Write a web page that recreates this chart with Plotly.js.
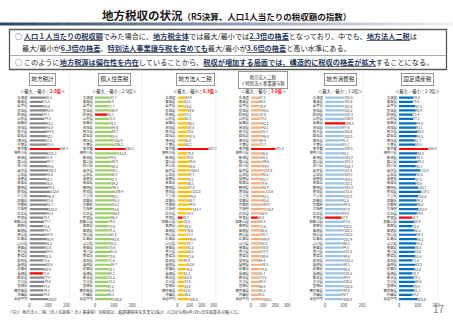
<!DOCTYPE html>
<html><head><meta charset="utf-8">
<script src="https://cdn.plot.ly/plotly-3.0.1.min.js"></script>
<style>body{margin:0;background:#fff}#c{width:453px;height:320px}</style>
</head><body><div id="c"></div><script>
const prefs=['北海道','青森県','岩手県','宮城県','秋田県','山形県','福島県','茨城県','栃木県','群馬県','埼玉県','千葉県','東京都','神奈川県','新潟県','富山県','石川県','福井県','山梨県','長野県','岐阜県','静岡県','愛知県','三重県','滋賀県','京都府','大阪府','兵庫県','奈良県','和歌山県','鳥取県','島根県','岡山県','広島県','山口県','徳島県','香川県','愛媛県','高知県','福岡県','佐賀県','長崎県','熊本県','大分県','宮崎県','鹿児島県','沖縄県','全国平均'];
const localTaxTotal=[86.3,73.5,76.8,92.4,74.1,79.5,92.3,92.8,94.8,90.1,87.2,93.4,164.5,101.5,87.8,94.7,94.6,100.1,92.8,88.7,88.6,99.1,112.6,96.8,91.6,93.7,103.0,92.9,74.1,77.7,73.6,79.7,89.6,93.9,86.2,83.6,89.5,82.5,72.6,88.6,80.4,71.6,77.9,79.6,74.5,74.3,74.0,100.0];
const residentTax=[81.7,66.8,71.7,86.4,65.7,73.5,78.1,89.6,89.7,85.4,102.9,106.3,165.3,123.0,79.6,88.9,88.5,88.1,86.4,85.1,89.2,94.1,108.4,90.2,95.5,93.5,93.6,96.9,86.4,74.0,73.6,74.3,81.8,93.8,80.2,75.6,81.6,73.8,71.6,84.7,72.7,69.3,72.2,72.2,67.2,66.5,68.5,100.0];
const corpTax=[64.9,53.5,58.6,84.6,57.5,61.5,86.5,87.0,78.6,91.5,56.8,62.2,257.0,79.9,76.8,95.6,90.0,106.0,84.7,79.3,80.3,87.8,123.0,98.6,88.7,94.9,124.7,73.4,40.7,51.6,58.5,76.6,73.7,99.9,74.7,81.2,83.1,81.6,49.9,83.6,70.2,51.3,62.8,57.6,53.6,51.6,56.2,100.0];
const corpTaxPlus=[67.5,66.8,70.9,90.8,70.6,74.0,92.2,92.1,85.7,95.8,69.9,73.1,201.8,86.8,84.5,99.6,94.9,107.0,93.5,85.7,79.9,92.9,115.6,93.5,93.6,99.0,116.9,82.9,56.0,65.4,71.6,80.6,85.7,99.9,83.5,88.0,87.9,88.4,64.4,88.2,79.6,65.1,73.8,69.5,66.8,65.5,58.3,100.0];
const consumptionTax=[105.0,103.6,103.6,103.2,107.5,106.4,109.5,97.6,103.6,103.0,91.2,95.1,104.5,92.5,105.2,105.3,106.7,101.8,104.1,104.1,103.1,105.4,101.6,101.9,93.5,99.8,97.9,94.9,87.9,97.6,100.2,103.5,103.0,101.4,98.5,94.5,101.8,99.6,105.3,98.1,98.8,101.6,99.4,100.2,102.6,99.8,90.7,100.0];
const propertyTax=[78.2,74.6,87.3,90.4,73.4,77.1,94.4,93.1,98.5,95.5,83.7,88.8,158.8,98.0,92.5,99.3,90.1,113.8,92.8,87.5,90.6,103.1,119.1,102.6,94.3,96.8,103.9,94.9,68.7,80.4,72.6,82.2,94.3,96.2,92.2,86.5,83.6,85.4,71.8,88.2,82.8,70.7,79.1,86.6,78.4,81.1,69.2,100.0];
const panelTitles=['地方税計','個人住民税','地方法人二税','地方法人二税<br>＋特別法人事業譲与税','地方消費税','固定資産税'];
const ratios=['2.3','2.5','6.3','3.6','1.2','2.3'];
const ratioRed=[true,false,true,true,false,false];

const W=453,H=320;
const series=[localTaxTotal,residentTax,corpTax,corpTaxPlus,consumptionTax,propertyTax];
const P=[
 {c:'#8c8c8c',x0:29.5,x1:69.5,max:216,ticks:[0,100,200],cx:42},
 {c:'#9ccf6b',x0:95,x1:135,max:216,ticks:[0,100,200],cx:114},
 {c:'#ffc000',x0:177.5,x1:215.5,max:316,ticks:[0,100,200,300],cx:195},
 {c:'#f4b183',x0:251,x1:289,max:316,ticks:[0,100,200,300],cx:263},
 {c:'#9dc3e6',x0:325,x1:365,max:216,ticks:[0,100,200],cx:340},
 {c:'#0070c0',x0:399,x1:439,max:216,ticks:[0,100,200],cx:417}
];
const yTop=95.4,yBot=301.2;
const py=v=>1-v/H, px=v=>v/W;
const data=[],layout={width:W,height:H,margin:{l:0,r:0,t:0,b:0},paper_bgcolor:'#fff',plot_bgcolor:'rgba(0,0,0,0)',showlegend:false,bargap:0.48,font:{family:'Noto Sans CJK JP, sans-serif',color:'#262626'},annotations:[],shapes:[]};
series.forEach((vals,i)=>{
 const n=i===0?'':String(i+1);
 const pv=vals.slice(0,47);
 const mx=Math.max(...pv),mn=Math.min(...pv);
 const cols=vals.map((v,k)=>(k<47&&(v===mx||v===mn))?'#ff0000':P[i].c);
 data.push({type:'bar',orientation:'h',x:vals,y:prefs,xaxis:'x'+n,yaxis:'y'+n,marker:{color:cols,line:{width:0}},
  text:vals.map(v=>v.toFixed(1)),textposition:'outside',cliponaxis:false,constraintext:'none',
  textfont:{size:3.3,color:'#404040'},hoverinfo:'none'});
 layout['xaxis'+n]={domain:[px(P[i].x0),px(P[i].x1)],range:[0,P[i].max],anchor:'y'+n,tickmode:'array',tickvals:P[i].ticks,
  ticks:'',tickfont:{size:4.3,color:'#404040'},showgrid:false,zeroline:false,showline:false,fixedrange:true};
 layout['yaxis'+n]={domain:[py(yBot),py(yTop)],anchor:'x'+n,type:'category',categoryarray:prefs,autorange:'reversed',
  tickmode:'array',tickvals:prefs,ticktext:prefs,tickfont:{size:3.4,color:'#333'},showgrid:false,ticks:'',
  ticklabelstandoff:1,showline:false,zeroline:false,fixedrange:true};
 layout.annotations.push({xref:'paper',yref:'paper',x:px(P[i].cx),y:py(i===3?80:79.5),text:panelTitles[i],showarrow:false,
  font:{size:i===3?4.4:5.6,color:'#262626'},bordercolor:'#7f7f7f',borderwidth:0.8,borderpad:i===3?2:1.5,bgcolor:'#fff',xanchor:'center',yanchor:'middle'});
 const r=ratioRed[i]?'<b><span style="color:#ff0000">'+ratios[i]+'倍</span></b>':ratios[i]+'倍';
 layout.annotations.push({xref:'paper',yref:'paper',x:px(P[i].cx),y:py(91.5),text:'＜最大／最小：'+r+'＞',showarrow:false,
  font:{size:4.3,color:'#262626'},xanchor:'center',yanchor:'middle'});
 const sx=[69.5,142,216,289.5,363,438][i];
 layout.shapes.push({type:'line',xref:'paper',yref:'paper',x0:px(sx),x1:px(sx),y0:py(72),y1:py(310),line:{color:'#e6e6e6',width:0.6}});
});
// header band gradient
const c0=[52,68,99],c1=[236,240,246],N=40;
for(let k=0;k<N;k++){
 const t=k/(N-1);const c=c0.map((a,j)=>Math.round(a+(c1[j]-a)*t));
 layout.shapes.push({type:'rect',xref:'paper',yref:'paper',x0:k/N,x1:(k+1)/N+0.002,y0:py(25.5),y1:py(22.5),line:{width:0},fillcolor:'rgb('+c.join(',')+')'});
}
// text box
layout.shapes.push({type:'rect',xref:'paper',yref:'paper',x0:px(9.5),x1:px(446.5),y0:py(69.5),y1:py(29.5),line:{color:'#595959',width:1.3},fillcolor:'rgba(0,0,0,0)'});
layout.shapes.push({type:'line',xref:'paper',yref:'paper',x0:px(9.5),x1:px(446.5),y0:py(55.5),y1:py(55.5),line:{color:'#8c8c8c',width:0.7}});
const hl=s=>'<b><u><span style="color:#1f3864">'+s+'</span></u></b>';
layout.annotations.push({xref:'paper',yref:'paper',x:px(226),y:py(15),text:'<b>地方税収の状況<span style="font-size:8.5px">（R5決算、人口1人当たりの税収額の指数）</span></b>',showarrow:false,font:{size:11.5,color:'#1a1a1a'},xanchor:'center',yanchor:'middle'});
layout.annotations.push({xref:'paper',yref:'paper',x:px(13),y:py(36.5),xanchor:'left',yanchor:'middle',showarrow:false,font:{size:7.2,color:'#262626'},
 text:'○ '+hl('人口１人当たりの税収額')+'でみた場合に、'+hl('地方税全体')+'では最大/最小では'+hl('2.3倍の格差')+'となっており、中でも、'+hl('地方法人二税')+'は'});
layout.annotations.push({xref:'paper',yref:'paper',x:px(20),y:py(47.5),xanchor:'left',yanchor:'middle',showarrow:false,font:{size:7.2,color:'#262626'},
 text:'最大/最小が'+hl('6.3倍の格差')+'、'+hl('特別法人事業譲与税を含めても')+'最大/最小が'+hl('3.6倍の格差')+'と高い水準にある。'});
layout.annotations.push({xref:'paper',yref:'paper',x:px(13),y:py(62),xanchor:'left',yanchor:'middle',showarrow:false,font:{size:7.2,color:'#262626'},
 text:'○ このように'+hl('地方税源は偏在性を内在')+'していることから、'+hl('税収が増加する局面では、構造的に税収の格差が拡大')+'することになる。'});
layout.annotations.push({xref:'paper',yref:'paper',x:px(6),y:py(311.5),xanchor:'left',yanchor:'middle',showarrow:false,font:{size:4,color:'#333'},
 text:'（注1）地方法人二税（法人住民税・法人事業税）の税収は、超過課税等を含まない。'});
layout.annotations.push({xref:'paper',yref:'paper',x:px(150),y:py(311.5),xanchor:'left',yanchor:'middle',showarrow:false,font:{size:4,color:'#333'},
 text:'（注2）人口は令和6年1月1日住民基本台帳人口。'});
layout.annotations.push({xref:'paper',yref:'paper',x:px(447),y:py(308),xanchor:'right',yanchor:'middle',showarrow:false,font:{size:10,color:'#7f7f7f'},text:'17'});
Plotly.newPlot('c',data,layout,{staticPlot:true,displayModeBar:false});
</script></body></html>
